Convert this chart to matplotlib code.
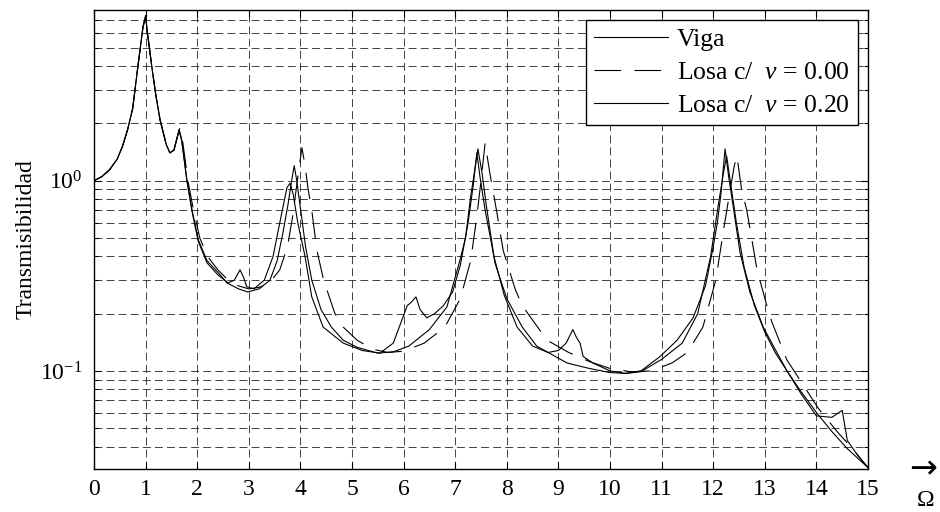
#!/usr/bin/env python3
"""transmisibilidad: viga vs losa"""

import matplotlib

matplotlib.use("Agg")
import matplotlib.pyplot as plt
from matplotlib.ticker import LogLocator, NullFormatter, MultipleLocator

# --- data (Omega, transmissibility) ---
x_viga = [0, 0.15, 0.3, 0.45, 0.55, 0.65, 0.75, 0.85, 0.95, 1.0, 1.05, 1.12,
          1.2, 1.28, 1.4, 1.47, 1.55, 1.6, 1.65, 1.7, 1.8, 1.9, 2.02, 2.19,
          2.4, 2.58, 2.8, 2.98, 3.2, 3.41, 3.55, 3.66, 3.76, 3.83, 3.88, 3.93,
          4.0, 4.1, 4.22, 4.4, 4.6, 4.83, 5.1, 5.5, 5.8, 6.1, 6.5, 6.84, 7.09,
          7.2, 7.29, 7.37, 7.44, 7.52, 7.6, 7.77, 8.0, 8.3, 8.58, 9.17, 9.6,
          10.0, 10.3, 10.6, 10.97, 11.3, 11.61, 11.85, 11.98, 12.08, 12.15,
          12.23, 12.3, 12.36, 12.52, 12.71, 12.97, 13.2, 13.43, 13.7, 14.01,
          14.3, 14.6, 15.0]
y_viga = [1.0, 1.05, 1.14, 1.3, 1.51, 1.85, 2.4, 3.98, 6.45, 7.3, 5.6, 3.98,
          2.8, 2.09, 1.55, 1.40, 1.45, 1.64, 1.86, 1.64, 1.01, 0.70, 0.49,
          0.38, 0.33, 0.29, 0.27, 0.26, 0.27, 0.30, 0.38, 0.53, 0.75, 1.0,
          1.2, 1.0, 0.72, 0.45, 0.30, 0.21, 0.17, 0.145, 0.133, 0.124, 0.126,
          0.135, 0.165, 0.217, 0.38, 0.5, 0.79, 1.1, 1.47, 1.1, 0.75, 0.37,
          0.24, 0.17, 0.135, 0.11, 0.103, 0.098, 0.097, 0.1, 0.119, 0.145,
          0.19, 0.28, 0.42, 0.6, 0.85, 1.47, 1.05, 0.82, 0.42, 0.26, 0.17,
          0.13, 0.1, 0.078, 0.06, 0.048, 0.039, 0.031]

x_nu00 = [0, 0.15, 0.3, 0.45, 0.55, 0.65, 0.75, 0.85, 0.95, 1.0, 1.05, 1.12,
          1.2, 1.28, 1.4, 1.47, 1.55, 1.6, 1.66, 1.72, 1.82, 1.92, 2.05, 2.2,
          2.4, 2.6, 2.8, 3.0, 3.2, 3.4, 3.6, 3.75, 3.85, 3.93, 3.98, 4.03,
          4.09, 4.15, 4.22, 4.32, 4.45, 4.67, 4.83, 5.1, 5.4, 5.7, 6.0, 6.4,
          6.8, 7.1, 7.3, 7.42, 7.5, 7.58, 7.67, 7.8, 7.93, 8.16, 8.3, 8.78,
          9.2, 9.6, 10.0, 10.4, 10.8, 11.2, 11.5, 11.8, 12.05, 12.2, 12.33,
          12.41, 12.46, 12.55, 12.65, 12.75, 12.85, 13.04, 13.14, 13.43, 13.62,
          14.03, 14.4, 14.7, 15.0]
y_nu00 = [1.0, 1.05, 1.14, 1.3, 1.51, 1.85, 2.4, 3.98, 6.45, 7.4, 5.6, 3.98,
          2.8, 2.09, 1.55, 1.40, 1.45, 1.64, 1.88, 1.6, 1.0, 0.72, 0.5, 0.4,
          0.34, 0.3, 0.28, 0.27, 0.275, 0.29, 0.34, 0.45, 0.65, 0.95, 1.2,
          1.49, 1.2, 0.9, 0.7, 0.43, 0.30, 0.2, 0.17, 0.145, 0.13, 0.125,
          0.127, 0.14, 0.17, 0.24, 0.38, 0.65, 1.0, 1.58, 1.1, 0.7, 0.43,
          0.27, 0.22, 0.145, 0.125, 0.112, 0.103, 0.099, 0.1, 0.11, 0.125,
          0.17, 0.3, 0.55, 0.9, 1.2, 1.35, 0.9, 0.7, 0.49, 0.34, 0.22, 0.18,
          0.114, 0.095, 0.064, 0.048, 0.039, 0.031]

x_nu20 = [0, 0.15, 0.3, 0.45, 0.55, 0.65, 0.75, 0.85, 0.95, 1.0, 1.05, 1.12,
          1.2, 1.28, 1.4, 1.47, 1.55, 1.6, 1.65, 1.7, 1.8, 1.9, 2.02, 2.19,
          2.4, 2.6, 2.72, 2.83, 2.9, 2.96, 3.1, 3.3, 3.47, 3.64, 3.74, 3.8,
          3.86, 3.95, 4.09, 4.22, 4.44, 4.83, 5.2, 5.54, 5.8, 5.95, 6.07, 6.15,
          6.24, 6.32, 6.45, 6.6, 6.77, 6.95, 7.1, 7.25, 7.35, 7.42, 7.48, 7.58,
          7.75, 7.95, 8.2, 8.5, 8.8, 9.0, 9.15, 9.28, 9.35, 9.42, 9.48, 9.67,
          10.0, 10.3, 10.6, 11.0, 11.4, 11.7, 11.95, 12.1, 12.2, 12.26, 12.33,
          12.45, 12.6, 12.8, 13.0, 13.2, 13.43, 13.7, 14.0, 14.3, 14.42, 14.5,
          14.6, 14.8, 15.0]
y_nu20 = [1.0, 1.05, 1.14, 1.3, 1.51, 1.85, 2.4, 3.98, 6.45, 7.2, 5.6, 3.98,
          2.8, 2.09, 1.55, 1.40, 1.45, 1.64, 1.84, 1.62, 1.0, 0.69, 0.48,
          0.37, 0.32, 0.29, 0.3, 0.34, 0.31, 0.277, 0.27, 0.3, 0.40, 0.68,
          0.92, 0.97, 0.85, 0.6, 0.40, 0.245, 0.17, 0.14, 0.128, 0.124, 0.14,
          0.18, 0.22, 0.23, 0.245, 0.21, 0.19, 0.2, 0.22, 0.26, 0.36, 0.6,
          0.95, 1.4, 1.05, 0.7, 0.4, 0.25, 0.17, 0.135, 0.125, 0.128, 0.14,
          0.165, 0.15, 0.14, 0.119, 0.11, 0.1, 0.097, 0.099, 0.115, 0.14, 0.2,
          0.4, 0.75, 1.1, 1.35, 1.0, 0.6, 0.35, 0.22, 0.16, 0.125, 0.1, 0.076,
          0.058, 0.057, 0.06, 0.062, 0.043, 0.036, 0.031]

labels = ["Viga", r"Losa c/  $\nu$ = 0.00", r"Losa c/  $\nu$ = 0.20"]


def style():
    plt.rcParams["font.family"] = ["Liberation Serif", "DejaVu Serif"]
    plt.rcParams["mathtext.fontset"] = "custom"
    plt.rcParams["mathtext.rm"] = "Liberation Serif"
    plt.rcParams["mathtext.it"] = "Liberation Serif:italic"
    plt.rcParams["font.size"] = 17


def plot(ax):
    ax.plot(x_viga, y_viga, color="black", lw=0.8, label=labels[0])
    ax.plot(x_nu00, y_nu00, color="black", lw=0.8, dashes=(24, 12),
            label=labels[1])
    ax.plot(x_nu20, y_nu20, color="black", lw=0.8, label=labels[2])

    ax.set_yscale("log")
    ax.set_xlim(0, 15)
    ax.set_ylim(0.0305, 7.9)
    ax.xaxis.set_major_locator(MultipleLocator(1))
    ax.yaxis.set_major_locator(LogLocator(base=10, numticks=10))
    ax.yaxis.set_minor_locator(LogLocator(base=10, subs=range(2, 10), numticks=10))
    ax.yaxis.set_minor_formatter(NullFormatter())
    ax.tick_params(which="both", direction="in", top=True, right=True,
                   width=0.8, labelsize=17)
    ax.tick_params(axis="x", which="major", pad=7)
    ax.tick_params(axis="y", which="major", pad=8)
    ax.tick_params(which="major", length=5)
    ax.tick_params(which="minor", length=3)
    ax.grid(True, which="both", color="#222222", lw=0.6, ls=(0, (9.5, 5)))
    for sp in ax.spines.values():
        sp.set_linewidth(1.0)
    ax.set_ylabel("Transmisibilidad", labelpad=3)

    leg = ax.legend(loc="upper right", handlelength=2.9, handletextpad=0.35,
                    borderaxespad=0.4, fancybox=False, framealpha=1,
                    edgecolor="black", labelspacing=0.4, borderpad=0.3,
                    fontsize=18.5)
    leg.get_frame().set_linewidth(1.0)


def main():
    style()
    fig = plt.figure(figsize=(9.4, 5.12), dpi=100)
    ax = fig.add_axes([0.1, 0.084, 0.8234, 0.8965])
    plot(ax)
    fig.text(0.982, 0.085, "\u2192", ha="center", va="center", fontsize=24,
             family=["DejaVu Sans"])
    fig.text(0.985, 0.022, "\u03a9", ha="center", va="center", fontsize=17)
    fig.savefig("out.png", dpi=100)


if __name__ == "__main__":
    main()
